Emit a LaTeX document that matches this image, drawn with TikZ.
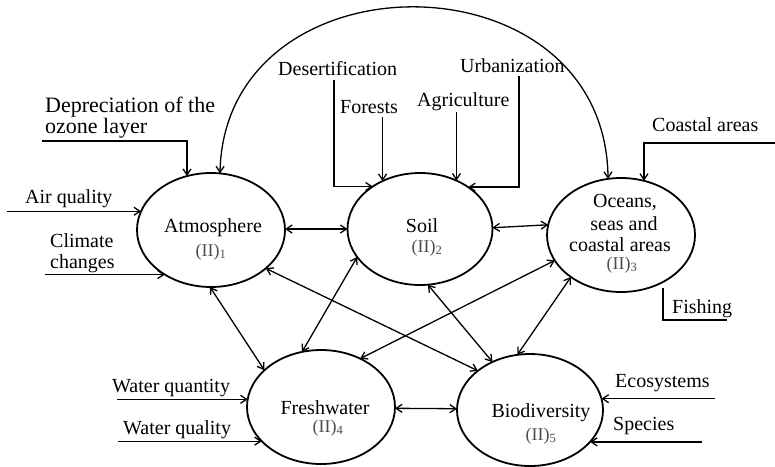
\documentclass[tikz,border=0pt]{standalone}
\usepackage{fontspec}
\setmainfont{Liberation Serif}
\usetikzlibrary{arrows.meta,shapes.geometric}
\begin{document}
\begin{tikzpicture}[x=1pt,y=-1pt,
  sphere/.style={draw, ellipse, line width=1.8pt, inner sep=0pt, outer sep=0pt},
  link/.style={line width=1.3pt, {Straight Barb[length=6pt,width=8pt]}-{Straight Barb[length=6pt,width=8pt]}},
  feed/.style={line width=1.3pt, -{Straight Barb[length=6pt,width=8pt]}},
  plain/.style={line width=1.3pt},
  lbl/.style={inner sep=0pt, font=\fontsize{20}{21}\selectfont, anchor=base west, align=left},
  ttl/.style={inner sep=0pt, font=\fontsize{20}{22}\selectfont, anchor=base, align=center},
  idx/.style={inner sep=0pt, font=\fontsize{18}{18}\selectfont, text=black!70, anchor=base}]
\useasboundingbox (0,0) rectangle (775,466);

% the five spheres
\node[sphere, minimum width=148pt, minimum height=114pt] (atm)   at (211,230) {};
\node[sphere, minimum width=145pt, minimum height=112pt] (soil)  at (420,229) {};
\node[sphere, minimum width=148pt, minimum height=114pt] (ocean) at (621,235) {};
\node[sphere, minimum width=148pt, minimum height=114pt] (fresh) at (321,407) {};
\node[sphere, minimum width=146pt, minimum height=112pt] (bio)   at (530,410) {};

% titles and indices
\node[ttl] (tatm) at (213,232) {Atmosphere};
\node[idx] (iatm) at (211,256) {(II)\textsubscript{1}};
\node[ttl] (tsoil) at (422,232) {Soil};
\node[idx] (isoil) at (427,252) {(II)\textsubscript{2}};
\node[ttl] (tocean1) at (625,207) {Oceans,};
\node[ttl] (tocean2) at (624,230) {seas and};
\node[ttl] (tocean3) at (620,251) {coastal areas};
\node[idx] (iocean) at (622,269) {(II)\textsubscript{3}};
\node[ttl] (tfresh) at (325,414) {Freshwater};
\node[idx] (ifresh) at (328,432) {(II)\textsubscript{4}};
\node[ttl] (tbio) at (541,417) {Biodiversity};
\node[idx] (ibio) at (541,440) {(II)\textsubscript{5}};

% interactions between spheres
\draw[link] (soil.west -| atm.east) -- (soil.west);
\draw[link] (soil.1.6) -- (ocean.172.9);
\draw[link] (fresh.-1.5) -- (bio.179.2);
\draw[link] (atm.-91) -- (fresh.147.4);
\draw[link] (atm.-35.1) -- (bio.143.6);
\draw[link] (soil.204.7) -- (fresh.109.4);
\draw[link] (soil.-82) -- (bio.128.4);
\draw[link] (ocean.201.5) -- (fresh.51.5);
\draw[link] (ocean.220.6) -- (bio.103.3);
\draw[link] (atm.81.2) .. controls (225,-49) and (605,-49) .. (ocean.103.6);

% pressures on the atmosphere (base anchor sits on the last line)
\node[lbl, font=\fontsize{22}{21}\selectfont] (tdep) at (45,133) {Depreciation of the\\ozone layer};
\coordinate (oz0) at (42,141);
\draw[feed] (oz0) -| (atm.114.4);
\node[lbl] (tair) at (25,203) {Air quality};
\coordinate (aq0) at (7,0);
\draw[feed] (atm.165 -| aq0) -- (atm.165);
\node[lbl] (tclim) at (50,268) {Climate\\changes};
\coordinate (cc0) at (45,0);
\draw[feed] (atm.224.4 -| cc0) -- (atm.224.4);

% pressures on the soil
\node[lbl] (tdes) at (278,75) {Desertification};
\coordinate (de0) at (334,80);
\draw[feed] (de0) |- (soil.138);
\node[lbl] (tfor) at (340,113) {Forests};
\coordinate (fo0) at (0,117);
\draw[feed] (soil.128 |- fo0) -- (soil.128);
\node[lbl] (tagr) at (417,106) {Agriculture};
\coordinate (ag0) at (0,112);
\draw[feed] (soil.53 |- ag0) -- (soil.53);
\node[lbl] (turb) at (460,72) {Urbanization};
\coordinate (ur0) at (519,76);
\draw[feed] (ur0) |- (soil.41);

% pressures on the oceans
\node[lbl] (tcoa) at (652,131) {Coastal areas};
\coordinate (co0) at (775,143);
\draw[feed] (co0) -| (ocean.67);
\node[lbl] (tfish) at (672,313) {Fishing};
\coordinate (fi0) at (663,288);
\coordinate (fi1) at (727,320);
\draw[plain] (fi0) |- (fi1);

% pressures on freshwater
\node[lbl] (twqn) at (112,392) {Water quantity};
\coordinate (wn0) at (117,0);
\draw[feed] (fresh.174.6 -| wn0) -- (fresh.174.6);
\node[lbl] (twql) at (123,434) {Water quality};
\coordinate (wl0) at (118,0);
\draw[feed] (fresh.210.5 -| wl0) -- (fresh.210.5);

% pressures on biodiversity
\node[lbl] (teco) at (615,387) {Ecosystems};
\coordinate (ec0) at (715,0);
\draw[feed] (bio.9.3 -| ec0) -- (bio.9.3);
\node[lbl] (tspe) at (613,430) {Species};
\coordinate (sp0) at (702,0);
\draw[feed] (bio.-28 -| sp0) -- (bio.-28);
\end{tikzpicture}
\end{document}
